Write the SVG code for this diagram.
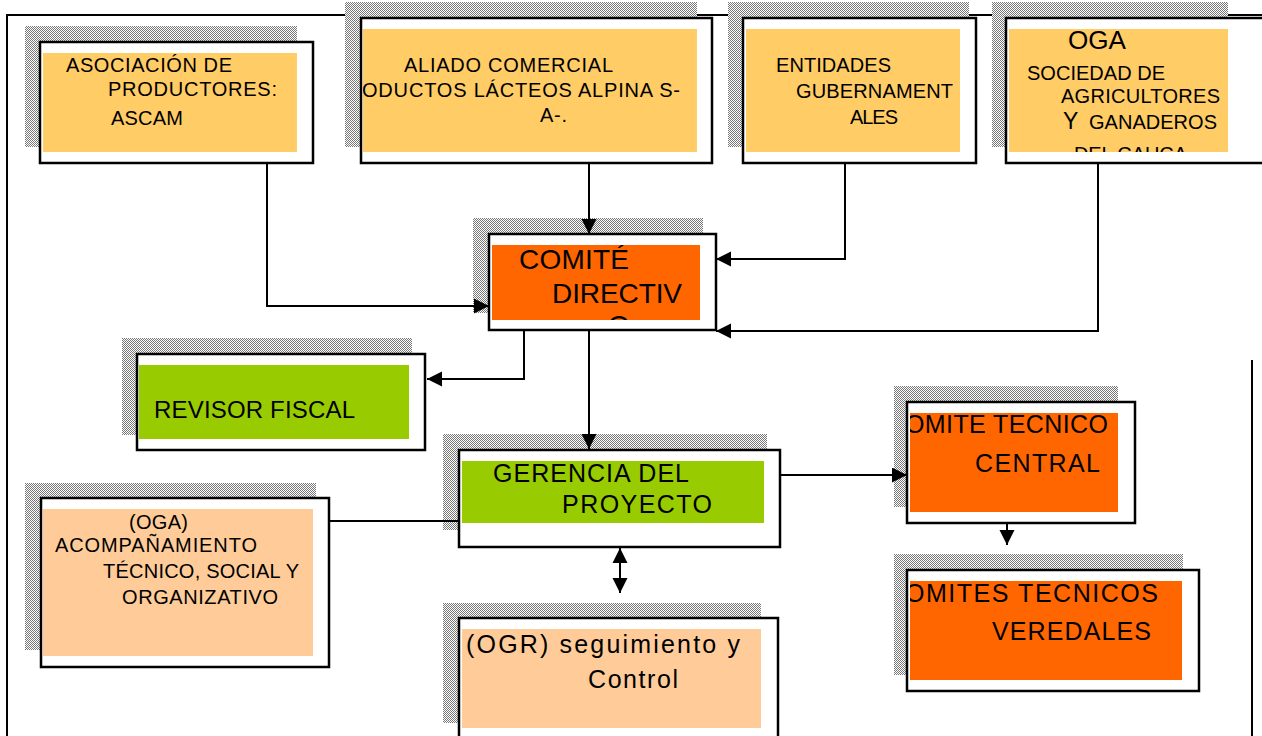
<svg xmlns="http://www.w3.org/2000/svg" width="1262" height="736" viewBox="0 0 1262 736">
<style>
.t{font-family:"Liberation Sans",Arial,sans-serif;fill:#000}
.s20{font-size:20px}.s24{font-size:24px}.s25{font-size:25px}.s28{font-size:28px}
.box{fill:#fff;stroke:#000;stroke-width:2.5}
.sh{fill:url(#chk)}
.y{fill:#FFCC66}.o{fill:#FF6600}.g{fill:#99CC00}.p{fill:#FFCC99}
.ln{fill:none;stroke:#000;stroke-width:2}
</style>
<defs>
<pattern id="chk" width="2" height="2" patternUnits="userSpaceOnUse">
<rect width="2" height="2" fill="#ffffff"/>
<rect width="1" height="1" fill="#777"/>
<rect x="1" y="1" width="1" height="1" fill="#777"/>
</pattern>
<marker id="ah" markerWidth="16" markerHeight="16" refX="15" refY="7.5" orient="auto" markerUnits="userSpaceOnUse">
<path d="M0,0 L15,7.5 L0,15 Z" fill="#000"/>
</marker>
<marker id="ahs" markerWidth="16" markerHeight="16" refX="0" refY="7.5" orient="auto" markerUnits="userSpaceOnUse">
<path d="M15,0 L0,7.5 L15,15 Z" fill="#000"/>
</marker>
<clipPath id="c2"><rect x="363" y="29" width="334" height="123"/></clipPath>
<clipPath id="c4"><rect x="1009" y="29" width="219" height="123"/></clipPath>
<clipPath id="c5"><rect x="492" y="245" width="208" height="75"/></clipPath>
<clipPath id="c10"><rect x="910" y="413" width="208" height="99"/></clipPath>
<clipPath id="c11"><rect x="910" y="581" width="272" height="99"/></clipPath>
</defs>

<g id="frame">
<path d="M7,736 V15 H1262" class="ln"/>
<path d="M1252,360 V736" class="ln"/>
</g>

<g id="n-ascam">
<rect class="sh" x="25" y="26" width="272" height="121"/>
<rect class="box" x="40" y="42" width="273" height="121"/>
<rect class="y" x="43" y="53" width="254" height="99"/>
<text class="t s20" x="66" y="72" textLength="166" lengthAdjust="spacing">ASOCIACIÓN DE</text>
<text class="t s20" x="108" y="96" textLength="169" lengthAdjust="spacing">PRODUCTORES:</text>
<text class="t s20" x="111" y="125" textLength="72" lengthAdjust="spacing">ASCAM</text>
</g>

<g id="n-aliado">
<rect class="sh" x="345" y="2" width="352" height="145"/>
<rect class="box" x="361" y="18" width="351" height="145"/>
<rect class="y" x="363" y="29" width="334" height="123"/>
<g clip-path="url(#c2)">
<text class="t s20" x="404" y="72" textLength="209" lengthAdjust="spacing">ALIADO COMERCIAL</text>
<text class="t s20" x="362" y="97" textLength="318" lengthAdjust="spacing">ODUCTOS LÁCTEOS ALPINA S-</text>
<text class="t s20" x="540" y="122" textLength="27" lengthAdjust="spacing">A-.</text>
</g>
</g>

<g id="n-entidades">
<rect class="sh" x="728" y="2" width="241" height="145"/>
<rect class="box" x="743" y="18" width="233" height="145"/>
<rect class="y" x="746" y="29" width="214" height="123"/>
<text class="t s20" x="776" y="72" textLength="115" lengthAdjust="spacing">ENTIDADES</text>
<text class="t s20" x="796" y="98" textLength="157" lengthAdjust="spacing">GUBERNAMENT</text>
<text class="t s20" x="850" y="124" textLength="48" lengthAdjust="spacing">ALES</text>
</g>

<g id="n-oga">
<rect class="sh" x="992" y="2" width="236" height="145"/>
<rect class="box" x="1006" y="18" width="260" height="145"/>
<rect class="y" x="1009" y="29" width="219" height="123"/>
<g clip-path="url(#c4)">
<text class="t" style="font-size:25px" x="1068" y="49" textLength="58" lengthAdjust="spacingAndGlyphs">OGA</text>
<text class="t s20" x="1027" y="80" textLength="138" lengthAdjust="spacing">SOCIEDAD DE</text>
<text class="t s20" x="1061" y="103" textLength="159" lengthAdjust="spacing">AGRICULTORES</text>
<text class="t" style="font-size:23px" x="1063" y="129">Y</text>
<text class="t s20" x="1089" y="129" textLength="128" lengthAdjust="spacing">GANADEROS</text>
<text class="t s20" x="1074" y="161" textLength="113" lengthAdjust="spacing">DEL CAUCA</text>
</g>
</g>

<g id="n-comite">
<rect class="sh" x="473" y="218" width="230" height="95"/>
<rect class="box" x="489" y="234" width="227" height="96"/>
<rect class="o" x="492" y="245" width="208" height="75"/>
<g clip-path="url(#c5)">
<text class="t s28" x="519" y="269" textLength="110" lengthAdjust="spacing">COMITÉ</text>
<text class="t s28" x="552" y="303" textLength="130" lengthAdjust="spacing">DIRECTIV</text>
<text class="t s28" x="608" y="335">O</text>
</g>
</g>

<g id="n-revisor">
<rect class="sh" x="122" y="338" width="290" height="97"/>
<rect class="box" x="137" y="354" width="288" height="96"/>
<rect class="g" x="139" y="365" width="270" height="74"/>
<text class="t s24" x="154" y="418" textLength="201" lengthAdjust="spacing">REVISOR FISCAL</text>
</g>

<g id="n-gerencia">
<rect class="sh" x="443" y="434" width="324" height="96"/>
<rect class="box" x="459" y="450" width="321" height="97"/>
<rect class="g" x="462" y="461" width="302" height="62"/>
<text class="t s25" x="493" y="482" textLength="196" lengthAdjust="spacing">GERENCIA DEL</text>
<text class="t s25" x="562" y="513" textLength="150" lengthAdjust="spacing">PROYECTO</text>
</g>

<g id="n-acomp">
<rect class="sh" x="25" y="483" width="291" height="167"/>
<rect class="box" x="41" y="498" width="288" height="169"/>
<rect class="p" x="43" y="509" width="270" height="147"/>
<text class="t s20" x="129" y="529" textLength="59" lengthAdjust="spacing">(OGA)</text>
<text class="t s20" x="55" y="552" textLength="202" lengthAdjust="spacing">ACOMPAÑAMIENTO</text>
<text class="t s20" x="103" y="578" textLength="196" lengthAdjust="spacing">TÉCNICO, SOCIAL Y</text>
<text class="t s20" x="122" y="604" textLength="156" lengthAdjust="spacing">ORGANIZATIVO</text>
</g>

<g id="n-ogr">
<rect class="sh" x="443" y="603" width="318" height="120"/>
<rect class="box" x="459" y="618" width="319" height="130"/>
<rect class="p" x="462" y="629" width="299" height="99"/>
<text class="t s25" x="466" y="653" textLength="274" lengthAdjust="spacing">(OGR) seguimiento y</text>
<text class="t s25" x="588" y="688" textLength="90" lengthAdjust="spacing">Control</text>
</g>

<g id="n-ctc">
<rect class="sh" x="894" y="386" width="224" height="121"/>
<rect class="box" x="907" y="402" width="228" height="121"/>
<rect class="o" x="910" y="413" width="208" height="99"/>
<g clip-path="url(#c10)">
<text class="t s25" x="905" y="433" textLength="203" lengthAdjust="spacing">OMITE TECNICO</text>
<text class="t s25" x="975" y="472" textLength="125" lengthAdjust="spacing">CENTRAL</text>
</g>
</g>

<g id="n-ctv">
<rect class="sh" x="894" y="554" width="289" height="121"/>
<rect class="box" x="907" y="570" width="292" height="121"/>
<rect class="o" x="910" y="581" width="272" height="99"/>
<g clip-path="url(#c11)">
<text class="t s25" x="905" y="602" textLength="253" lengthAdjust="spacing">OMITES TECNICOS</text>
<text class="t s25" x="992" y="640" textLength="159" lengthAdjust="spacing">VEREDALES</text>
</g>
</g>

<g id="connectors">
<path class="ln" d="M267,163 V306 H489" marker-end="url(#ah)"/>
<path class="ln" d="M589,163 V234" marker-end="url(#ah)"/>
<path class="ln" d="M845,163 V259 H716" marker-end="url(#ah)"/>
<path class="ln" d="M1098,163 V331 H716" marker-end="url(#ah)"/>
<path class="ln" d="M524,330 V379 H427" marker-end="url(#ah)"/>
<path class="ln" d="M589,330 V449" marker-end="url(#ah)"/>
<path class="ln" d="M329,521 H459"/>
<path class="ln" d="M780,475 H907" marker-end="url(#ah)"/>
<path class="ln" d="M620,548 V593" marker-start="url(#ahs)" marker-end="url(#ah)"/>
<path class="ln" d="M1007,523 V545" marker-end="url(#ah)"/>
</g>
</svg>
